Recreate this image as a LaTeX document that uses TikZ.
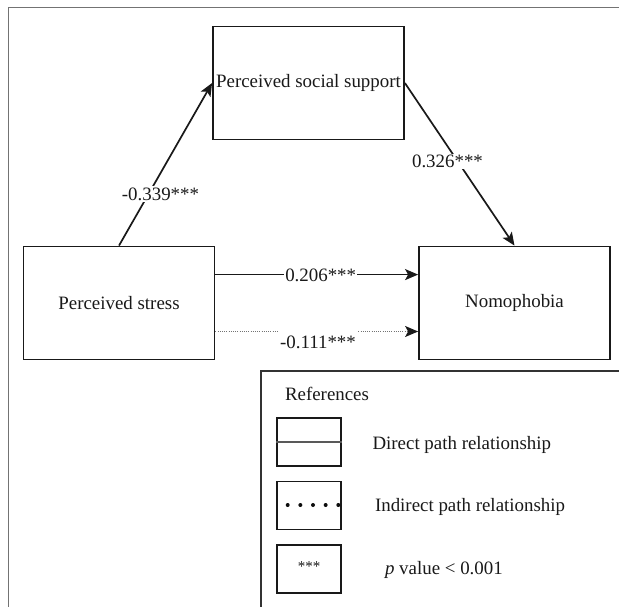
\documentclass[tikz,border=0pt]{standalone}
\usepackage{fontspec}
\setmainfont{Liberation Serif}
\usetikzlibrary{arrows.meta}
\begin{document}
\begin{tikzpicture}[x=1pt,y=-1pt,
  every node/.style={font=\fontsize{18.9}{22}\selectfont, text=black!90},
  varbox/.style={draw=black!90, line width=1.8pt, inner sep=0pt, minimum width=191pt, minimum height=113pt},
  keybox/.style={draw=black!90, line width=1.8pt, inner sep=0pt, minimum width=64pt, minimum height=48pt},
  coef/.style={fill=white, inner xsep=1pt, inner ysep=1.5pt},
  pathline/.style={line width=1.7pt, draw=black!90, -{Stealth[length=13pt,width=11pt,inset=3pt]}},
  indline/.style={line width=1pt, draw=black!55, dash pattern=on 1pt off 1.2pt, -{Stealth[length=13pt,width=11pt,inset=3pt,color=black!90]}}
]
\useasboundingbox (0,0) rectangle (619,607);
\clip (0,0) rectangle (619,607);
\fill[white] (0,0) rectangle (619,607);
% outer frame and legend frame
\draw[black!55, line width=1.2pt] (8.5,620) -- (8.5,7.5) -- (630,7.5);
\draw[black!80, line width=1.6pt] (261,620) -- (261,371) -- (630,371);

% variables
\node[varbox] (pss) at (308.5,83) {Perceived social support};
\node[varbox] (ps) at (119,303) {Perceived stress};
\node[varbox] (nomo) at (514.5,303) {Nomophobia};

% paths
\draw[pathline] (ps.north) -- (pss.west);
\draw[pathline] (pss.east) -- (nomo.north);
\draw[pathline] ([yshift=28.4pt]ps.east) -- ([yshift=28.4pt]nomo.west);
\draw[indline] ([yshift=-28.5pt]ps.east) -- ([yshift=-28.5pt]nomo.west);

% coefficients
\node[coef] (c1) at (160.5,194.4) {-0.339***};
\node[coef] (c2) at (447.5,161.5) {0.326***};
\node[coef] (c3) at (320.7,275) {0.206***};
\node[coef, inner ysep=6pt, inner xsep=1.5pt] (c4) at (318,342.5) {-0.111***};

% legend
\node[anchor=base west] (refs) at (281.5,400) {References};
\node[keybox] (k1) at (309,442) {};
\draw[black!65, line width=1.6pt] (k1.west) -- (k1.east);
\node[anchor=base west] (t1) at (369,449) {Direct path relationship};
\node[keybox] (k2) at (309,505.5) {};
\coordinate (d1) at (287.7,505);
\coordinate (d2) at (340,505);
\draw[black!95, line width=4pt, line cap=round, dash pattern=on 0pt off 12.65pt] (d1) -- (d2);
\node[anchor=base west] (t2) at (371.5,511) {Indirect path relationship};
\node[keybox] (k3) at (309,569) {};
\node (ast) at (309,567) {\fontsize{15}{16}\selectfont ***};
\node[anchor=base west] (t3) at (381.5,574.3) {\textit{p} value < 0.001};
\end{tikzpicture}
\end{document}
